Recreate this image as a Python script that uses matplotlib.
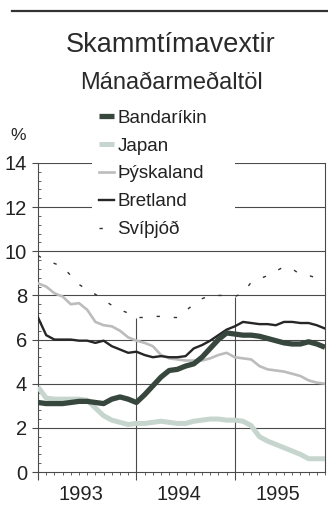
import matplotlib
matplotlib.use("Agg")
import matplotlib.pyplot as plt
from matplotlib.lines import Line2D
from matplotlib.patches import Rectangle
import numpy as np

plt.rcParams['font.family'] = ['Liberation Sans', 'DejaVu Sans']

# Monthly short-term interest rates, Jan 1993 - Dec 1995 (%)
months = np.arange(36)
years = ["1993", "1994", "1995"]

bandarikin = [3.15, 3.10, 3.10, 3.10, 3.15, 3.20, 3.20, 3.15, 3.10, 3.30, 3.40, 3.30,
              3.15, 3.50, 3.90, 4.30, 4.60, 4.65, 4.80, 4.90, 5.20, 5.60, 6.00, 6.30,
              6.25, 6.20, 6.20, 6.15, 6.05, 5.95, 5.85, 5.80, 5.80, 5.90, 5.80, 5.65]
japan = [3.85, 3.35, 3.30, 3.30, 3.30, 3.30, 3.25, 2.90, 2.55, 2.35, 2.25, 2.15,
         2.20, 2.20, 2.25, 2.30, 2.25, 2.20, 2.20, 2.30, 2.35, 2.40, 2.40, 2.35,
         2.35, 2.30, 2.10, 1.60, 1.40, 1.25, 1.10, 0.95, 0.80, 0.60, 0.60, 0.60]
thyskaland = [8.55, 8.40, 8.10, 7.95, 7.60, 7.65, 7.35, 6.80, 6.65, 6.60, 6.40, 6.10,
              5.95, 5.85, 5.70, 5.30, 5.15, 5.10, 5.05, 5.05, 5.05, 5.15, 5.30, 5.40,
              5.20, 5.15, 5.10, 4.80, 4.65, 4.60, 4.55, 4.45, 4.35, 4.15, 4.05, 4.00]
bretland = [7.00, 6.20, 6.00, 6.00, 6.00, 5.95, 5.95, 5.85, 5.95, 5.70, 5.55, 5.40,
            5.45, 5.30, 5.20, 5.25, 5.20, 5.20, 5.25, 5.60, 5.75, 5.95, 6.20, 6.45,
            6.60, 6.80, 6.75, 6.70, 6.70, 6.65, 6.80, 6.80, 6.75, 6.75, 6.65, 6.50]
svithjod = [9.80, 9.60, 9.45, 9.30, 8.90, 8.50, 8.25, 8.05, 7.80, 7.55, 7.35, 7.20,
            7.00, 7.00, 7.05, 7.05, 7.00, 7.00, 7.30, 7.60, 7.85, 8.00, 8.00, 8.00,
            7.95, 8.10, 8.60, 8.75, 8.90, 9.10, 9.30, 9.20, 8.95, 8.90, 8.80, 8.70]

fig = plt.figure(figsize=(3.28, 5.09), dpi=100)
ax = fig.add_axes([38 / 328, 1 - 472 / 509, 287 / 328, 309 / 509])

grid_c = '#4a4a4a'
ax.set_xlim(0, 35)
ax.set_ylim(0, 14)

# horizontal grid
for yv in range(2, 15, 2):
    ax.axhline(yv, color=grid_c, lw=0.8, zorder=1)

# year dividers rise from the axis up to the Swedish series
for yb in (12, 24):
    ax.vlines(yb, 0, svithjod[yb], color=grid_c, lw=0.8, zorder=1)

ax.plot(months, svithjod, color='#333333', lw=1.0, dashes=(2.4, 10.0),
        label='Svíþjóð', zorder=3)
ax.plot(months, japan, color='#c6d5cd', lw=3.6, label='Japan', zorder=3,
        solid_capstyle='butt')
ax.plot(months, thyskaland, color='#bcbcbc', lw=1.9, label='Þýskaland', zorder=3)
ax.plot(months, bretland, color='#262626', lw=1.7, label='Bretland', zorder=4)
ax.plot(months, bandarikin, color='#37473d', lw=3.8, label='Bandaríkin', zorder=5,
        solid_capstyle='butt')

# white panel behind the legend hides the upper grid lines
ax.add_patch(Rectangle((92 / 328, 1 - 242 / 509), 143 / 328, 140 / 509,
                       transform=fig.transFigure, facecolor='white',
                       edgecolor='none', zorder=2, clip_on=False))

# spines
ax.spines['top'].set_visible(False)
for s in ('left', 'right', 'bottom'):
    ax.spines[s].set_color(grid_c)
    ax.spines[s].set_linewidth(0.8)

ax.set_yticks(range(0, 15, 2))
ax.set_yticks(np.arange(0, 14.01, 0.4), minor=True)
ax.tick_params(axis='y', which='major', direction='out', length=4, width=0.8,
               color=grid_c, labelsize=14.5, pad=4, labelcolor='#222222')
ax.tick_params(axis='y', which='minor', direction='in', length=2.5, width=0.6,
               color=grid_c)

ax.set_xticks([0, 12, 24])
ax.set_xticklabels([])
ax.set_xticks(months, minor=True)
ax.tick_params(axis='x', which='major', direction='out', length=6, width=0.8,
               color=grid_c)
ax.tick_params(axis='x', which='minor', direction='out', length=2.5, width=0.6,
               color=grid_c)

for i, yr in enumerate(years):
    ax.text(12 * i + 5.2, -0.072, yr, transform=ax.get_xaxis_transform(),
            ha='center', va='center', fontsize=14.5, color='#222222')

ax.text(-0.07, 1.09, '%', transform=ax.transAxes, ha='center', va='center',
        fontsize=12.5, color='#222222')

handles, labels = ax.get_legend_handles_labels()
order = ['Bandaríkin', 'Japan', 'Þýskaland', 'Bretland', 'Svíþjóð']
hmap = dict(zip(labels, handles))
leg = ax.legend([hmap[k] for k in order], order, loc='upper left',
                bbox_to_anchor=(93 / 328, 1 - 104 / 509), bbox_transform=fig.transFigure,
                frameon=False, fontsize=13.5, handlelength=0.8, handletextpad=0.2,
                labelspacing=0.57, borderpad=0.3, borderaxespad=0)
leg.set_zorder(10)
for t in leg.get_texts():
    t.set_color('#222222')

fig.text(171 / 328, 1 - 45 / 509, 'Skammtímavextir', ha='center', va='center',
         fontsize=19.5, color='#2a2a2a')
fig.text(171 / 328, 1 - 83 / 509, 'Mánaðarmeðaltöl', ha='center', va='center',
         fontsize=17, color='#2a2a2a')

fig.add_artist(Line2D([12 / 328, 1.0], [1 - 10.5 / 509, 1 - 10.5 / 509],
                      transform=fig.transFigure, color='#333333', lw=1.6))

fig.savefig('out.png', dpi=100, facecolor='white')
